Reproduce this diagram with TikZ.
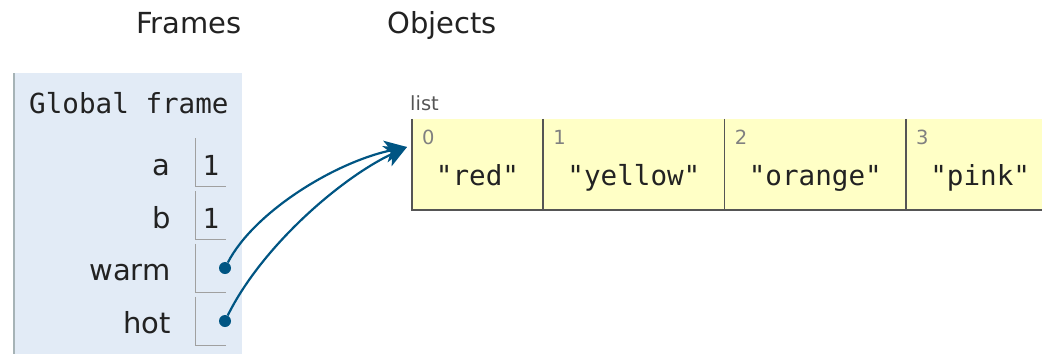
\documentclass[tikz,border=0pt]{standalone}
\usepackage{fontspec}
\setmainfont{DejaVu Sans}
\setmonofont{DejaVu Sans Mono}
\usetikzlibrary{arrows.meta,positioning}

\definecolor{framebg}{HTML}{E2EBF6}
\definecolor{frameedge}{HTML}{A6B3B6}
\definecolor{celledge}{HTML}{A0A0A0}
\definecolor{listbg}{HTML}{FFFFC6}
\definecolor{listedge}{HTML}{555555}
\definecolor{refcol}{HTML}{005583}
\definecolor{txt}{HTML}{222222}

\begin{document}
\begin{tikzpicture}[x=1pt,y=-1pt,
    head/.style={font=\fontsize{29}{34}\selectfont, text=txt, inner sep=0pt},
    mono/.style={font=\ttfamily\fontsize{27.6}{32}\selectfont, text=txt, inner sep=0pt},
    small/.style={font=\fontsize{19.5}{23}\selectfont, inner sep=0pt},
    varcell/.style={rectangle, minimum width=30pt, minimum height=48pt, inner sep=0pt},
    elt/.style={rectangle, fill=listbg, minimum height=91pt, inner sep=0pt},
    dot/.style={circle, fill=refcol, minimum size=12pt, inner sep=0pt},
    ref/.style={draw=refcol, line width=2.2pt, -{Stealth[length=22pt,width=22pt,inset=6pt]}}]

  \useasboundingbox (0,0) rectangle (1042,354);

  % headings
  \node[head, anchor=base east] (frames)  at (242,33) {Frames};
  \node[head, anchor=base west] (objects) at (387,33) {Objects};

  % global frame
  \fill[framebg] (14,73) rectangle (242,354);
  \draw[frameedge, line width=1.5pt] (14,73) -- (14,354);
  \node[mono, anchor=base west] (gf) at (29,113) {Global frame};

  \begin{scope}[every node/.style={varcell}]
    \node (va) at (211,162.5) {};
    \node (vb) at (211,215.5) {};
    \node (vw) at (211,268) {};
    \node (vh) at (211,321) {};
  \end{scope}

  \begin{scope}[celledge, line width=1pt]
    \draw (va.north west) -- (va.south west) -- (va.south east);
    \draw (vb.north west) -- (vb.south west) -- (vb.south east);
    \draw (vw.north west) -- (vw.south west) -- (vw.south east);
    \draw (vh.north west) -- (vh.south west) -- (vh.south east);
  \end{scope}

  \begin{scope}[every node/.style={head, anchor=base east}]
    \node (na) at ([xshift=-25pt,yshift=-12.5pt]va.west) {a};
    \node (nb) at ([xshift=-25pt,yshift=-12.5pt]vb.west) {b};
    \node (nw) at ([xshift=-25pt,yshift=-12.5pt]vw.west) {warm};
    \node (nh) at ([xshift=-25pt,yshift=-12.5pt]vh.west) {hot};
  \end{scope}

  \node[mono, anchor=base] (xa) at ([yshift=-12.5pt]va.center) {1};
  \node[mono, anchor=base] (xb) at ([yshift=-12.5pt]vb.center) {1};
  \node[dot] (pw) at ([xshift=14pt]vw.center) {};
  \node[dot] (ph) at ([xshift=14pt]vh.center) {};

  % list object
  \node[small, text=listedge, anchor=base west] (lst) at (410,110) {list};

  \node[elt, minimum width=131pt] (c0) at (477.5,164.5) {};
  \node[elt, minimum width=181pt, right=0pt of c0] (c1) {};
  \node[elt, minimum width=181pt, right=0pt of c1] (c2) {};
  \node[elt, minimum width=148pt, right=0pt of c2] (c3) {};

  \begin{scope}[listedge, line width=1.5pt]
    \draw (c0.north west) -- (c0.south west) -- (c3.south east);
    \draw (c1.north west) -- (c1.south west);
    \draw (c2.north west) -- (c2.south west);
    \draw (c3.north west) -- (c3.south west);
  \end{scope}

  \begin{scope}[every node/.style={small, text=gray, anchor=base west}]
    \node (i0) at ([xshift=10pt,yshift=-26pt]c0.north west) {0};
    \node (i1) at ([xshift=10pt,yshift=-26pt]c1.north west) {1};
    \node (i2) at ([xshift=10pt,yshift=-26pt]c2.north west) {2};
    \node (i3) at ([xshift=10pt,yshift=-26pt]c3.north west) {3};
  \end{scope}

  \begin{scope}[every node/.style={mono, anchor=base}]
    \node (s0) at ([yshift=-20.5pt]c0.center) {"red"};
    \node (s1) at ([yshift=-20.5pt]c1.center) {"yellow"};
    \node (s2) at ([yshift=-20.5pt]c2.center) {"orange"};
    \node (s3) at ([yshift=-20.5pt]c3.center) {"pink"};
  \end{scope}

  % references
  \coordinate (tip) at (407,147);
  \draw[ref] (pw) .. controls (254,212) and (335,162) .. (tip);
  \draw[ref] (ph) .. controls (262,246) and (342,177) .. (tip);

\end{tikzpicture}
\end{document}
